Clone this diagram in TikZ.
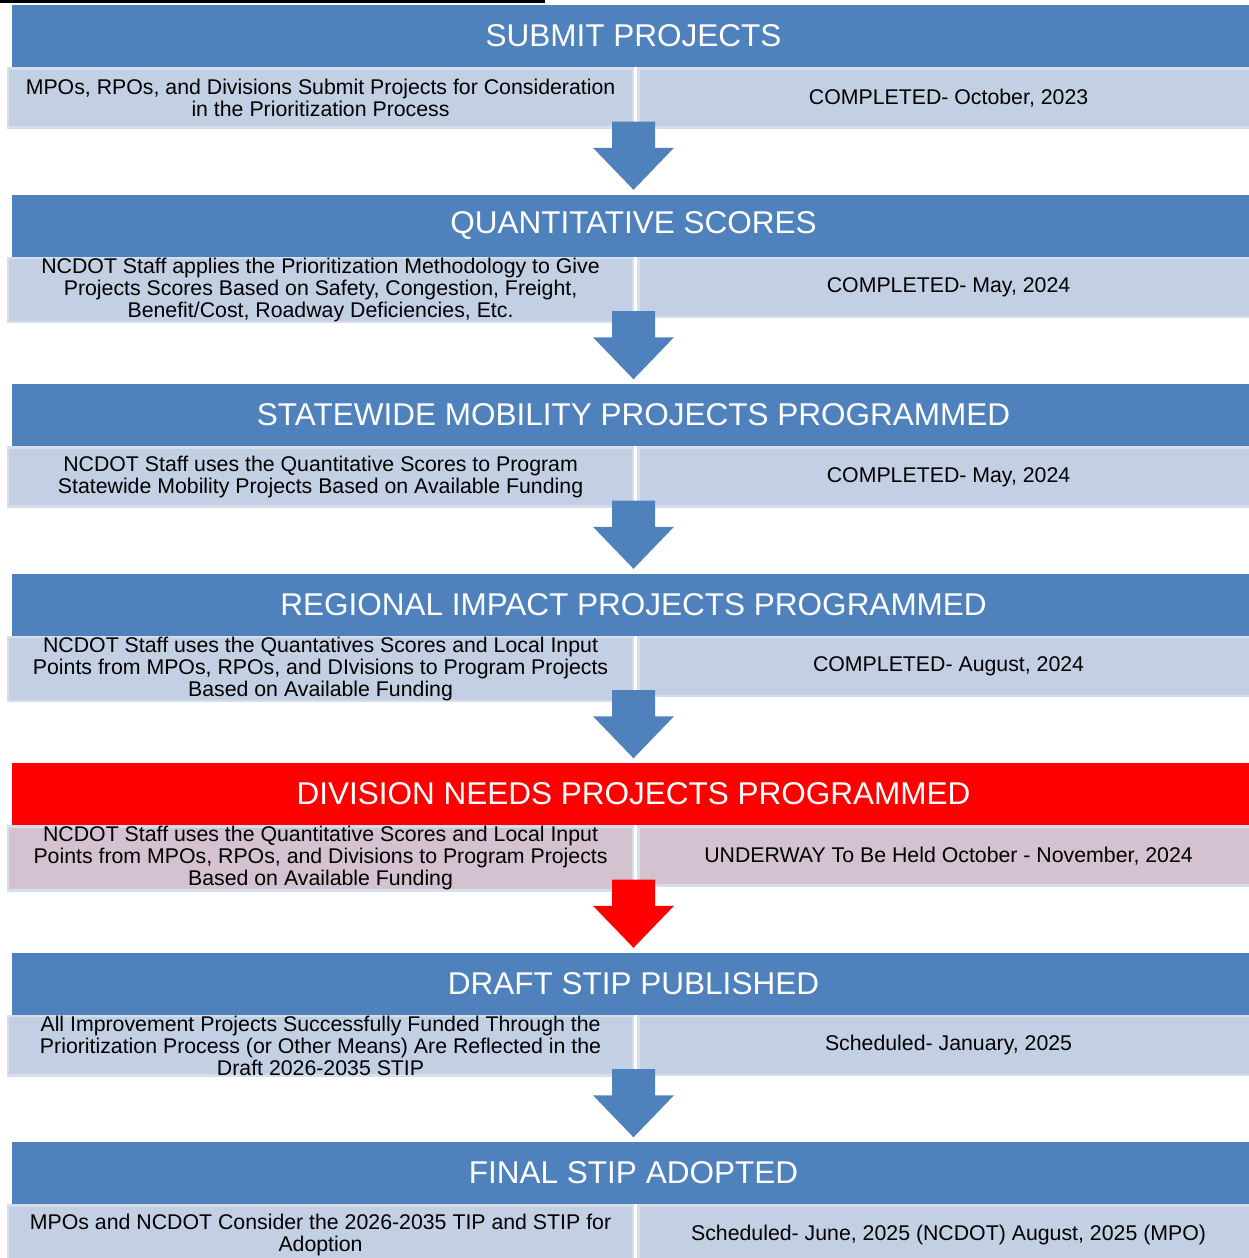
\documentclass[tikz,border=0pt]{standalone}
\usepackage{fontspec}
\setmainfont{Liberation Sans}
\usetikzlibrary{calc,positioning}
\definecolor{ncblue}{HTML}{4F81BD}
\definecolor{ncred}{HTML}{FF0000}
\definecolor{cellblue}{RGB}{195,207,227}
\definecolor{cellpink}{RGB}{212,194,209}
\definecolor{celledge}{RGB}{214,221,236}
\tikzstyle{header} = [shape=rectangle,minimum width=1243pt,minimum height=62pt,inner sep=0pt,fill=ncblue,text=white,font=\fontsize{31.5}{34}\selectfont]
\tikzstyle{desc}   = [shape=rectangle,anchor=north west,minimum width=625pt,minimum height=59pt,inner sep=0pt,fill=cellblue,draw=celledge,line width=2.5pt,align=center,font=\fontsize{21.3}{22}\selectfont]
\tikzstyle{date}   = [desc,minimum width=620pt]

\begin{document}
\begin{tikzpicture}[x=1pt,y=-1pt]
  \useasboundingbox (0,0) rectangle (1249,1258);
  \fill[black] (0,0) rectangle (545,3);

  % Stages
  \node[header] (submit) at (633.5,36) {SUBMIT PROJECTS};
  \node[desc] (submit-desc) at ([xshift=-5pt]submit.south west) {MPOs, RPOs, and Divisions Submit Projects for Consideration\\in the Prioritization Process};
  \node[date] (submit-date) at ([xshift=3pt]submit-desc.north east) {COMPLETED- October, 2023};

  \node[header] (quant) at (633.5,225.5) {QUANTITATIVE SCORES};
  \node[desc] (quant-desc) at ([xshift=-5pt]quant.south west) {NCDOT Staff applies the Prioritization Methodology to Give\\Projects Scores Based on Safety, Congestion, Freight,\\Benefit/Cost, Roadway Deficiencies, Etc.};
  \node[date] (quant-date) at ([xshift=3pt]quant-desc.north east) {COMPLETED- May, 2024};

  \node[header] (statewide) at (633.5,415) {STATEWIDE MOBILITY PROJECTS PROGRAMMED};
  \node[desc] (statewide-desc) at ([xshift=-5pt]statewide.south west) {NCDOT Staff uses the Quantitative Scores to Program\\Statewide Mobility Projects Based on Available Funding};
  \node[date] (statewide-date) at ([xshift=3pt]statewide-desc.north east) {COMPLETED- May, 2024};

  \node[header] (regional) at (633.5,604.5) {REGIONAL IMPACT PROJECTS PROGRAMMED};
  \node[desc] (regional-desc) at ([xshift=-5pt]regional.south west) {NCDOT Staff uses the Quantatives Scores and Local Input\\Points from MPOs, RPOs, and DIvisions to Program Projects\\Based on Available Funding};
  \node[date] (regional-date) at ([xshift=3pt]regional-desc.north east) {COMPLETED- August, 2024};

  \node[header,fill=ncred] (division) at (633.5,794) {DIVISION NEEDS PROJECTS PROGRAMMED};
  \node[desc,fill=cellpink] (division-desc) at ([xshift=-5pt]division.south west) {NCDOT Staff uses the Quantitative Scores and Local Input\\Points from MPOs, RPOs, and Divisions to Program Projects\\Based on Available Funding};
  \node[date,fill=cellpink] (division-date) at ([xshift=3pt]division-desc.north east) {UNDERWAY To Be Held October - November, 2024};

  \node[header] (draft) at (633.5,983.5) {DRAFT STIP PUBLISHED};
  \node[desc] (draft-desc) at ([xshift=-5pt]draft.south west) {All Improvement Projects Successfully Funded Through the\\Prioritization Process (or Other Means) Are Reflected in the\\Draft 2026-2035 STIP};
  \node[date] (draft-date) at ([xshift=3pt]draft-desc.north east) {Scheduled- January, 2025};

  \node[header] (final) at (633.5,1173) {FINAL STIP ADOPTED};
  \node[desc] (final-desc) at ([xshift=-5pt]final.south west) {MPOs and NCDOT Consider the 2026-2035 TIP and STIP for\\Adoption};
  \node[date] (final-date) at ([xshift=3pt]final-desc.north east) {Scheduled- June, 2025 (NCDOT) August, 2025 (MPO)};

  % Block arrows between stages
  \foreach \a/\b/\c in {submit/quant/ncblue,quant/statewide/ncblue,statewide/regional/ncblue,regional/division/ncblue,division/draft/ncred,draft/final/ncblue}
    \fill[\c] ($(\a.south)+(-21.5,54.5)$) -- ($(\a.south)+(21.5,54.5)$) -- ($(\b.north)+(21.5,-46.5)$)
      -- ($(\b.north)+(40.5,-46.5)$) -- ($(\b.north)+(0,-4.5)$) -- ($(\b.north)+(-40.5,-46.5)$)
      -- ($(\b.north)+(-21.5,-46.5)$) -- cycle;
\end{tikzpicture}
\end{document}
